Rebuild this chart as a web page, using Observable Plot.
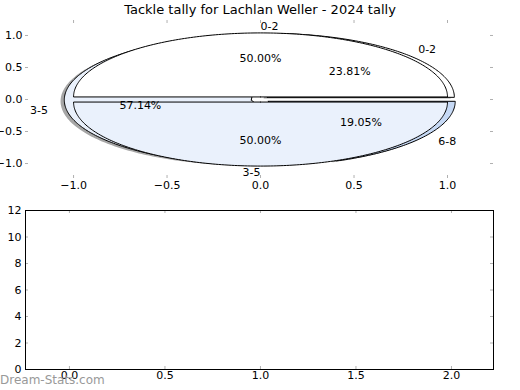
<!DOCTYPE html>
<html><head><meta charset="utf-8">
<script src="https://cdn.jsdelivr.net/npm/d3@7"></script>
<script src="https://cdn.jsdelivr.net/npm/@observablehq/plot@0.6"></script>
<style>
body{margin:0;background:#fff;}
#wrap{position:relative;width:520px;height:390px;overflow:hidden;font-family:"DejaVu Sans",sans-serif;background:#fff;}
#title{position:absolute;left:0;top:0;width:520px;text-align:center;font-size:13px;line-height:20px;color:#000;}
#top{position:absolute;left:0;top:0;}
#bottom{position:absolute;left:0;top:200px;}
#wm{position:absolute;left:0;top:372px;font-size:12px;line-height:16px;color:#999;}
svg{overflow:visible;}
</style></head>
<body>
<div id="wrap">
  <div id="top"></div>
  <div id="bottom"></div>
  <div id="title">Tackle tally for Lachlan Weller - 2024 tally</div>
  <div id="wm">Dream-Stats.com</div>
</div>
<script>
// ---- data ----
const outerLabels = ["0-2", "3-5", "6-8"];
const outerValues = [5, 12, 4];
const outerColors = ["#ffffff", "#e9f0fb", "#c6d9f5"];
const innerLabels = ["0-2", "3-5"];
const innerValues = [1, 1];
const innerColors = ["#ffffff", "#eaf1fc"];
const topTicks = [-1.0, -0.5, 0.0, 0.5, 1.0];
const bottomXTicks = [0.0, 0.5, 1.0, 1.5, 2.0];
const bottomYTicks = [0, 2, 4, 6, 8, 10, 12];

// ---- pie geometry from values ----
function wedges(labels, values, colors, explode) {
  const total = d3.sum(values);
  let a = 0;
  return values.map((v, i) => {
    const span = v / total * 360;
    const start = a, end = a + span, mid = (start + end) / 2;
    a = end;
    const r = mid * Math.PI / 180;
    return {label: labels[i], value: v, pct: (v / total * 100).toFixed(2) + "%",
      color: colors[i], start, end, mid,
      cx: explode * Math.cos(r), cy: explode * Math.sin(r)};
  });
}
function pts(w, ox = 0, oy = 0) {
  const p = [{x: w.cx + ox, y: w.cy + oy}];
  const n = Math.max(2, Math.ceil((w.end - w.start) / 1));
  for (let k = 0; k <= n; k++) {
    const t = (w.start + (w.end - w.start) * k / n) * Math.PI / 180;
    p.push({x: w.cx + ox + Math.cos(t), y: w.cy + oy + Math.sin(t)});
  }
  p.push({x: w.cx + ox, y: w.cy + oy});
  return p;
}
function labelPos(w, r) {
  const t = w.mid * Math.PI / 180;
  return {x: w.cx + r * Math.cos(t), y: w.cy + r * Math.sin(t)};
}
const outer = wedges(outerLabels, outerValues, outerColors, 0.05);
const inner = wedges(innerLabels, innerValues, innerColors, 0.04);

const fmt = d => d.toFixed(1).replace("-", "\u2212");
const tickColor = "#b0b0b0";

// ---- top plot (pies) ----
const W = 520, H1 = 200, mL = 25, mR = 27, mT1 = 20, mB1 = 22;
const fw = W - mL - mR, fh1 = H1 - mT1 - mB1;
const marks1 = [];
outer.forEach(w => marks1.push(Plot.line(pts(w, -0.02, -0.02), {x: "x", y: "y", fill: "#4d4d4d", fillOpacity: 0.5, stroke: "none", curve: "linear"})));
outer.forEach(w => marks1.push(Plot.line(pts(w), {x: "x", y: "y", fill: w.color, stroke: "#000", strokeWidth: 1, curve: "linear", strokeLinejoin: "miter"})));
inner.forEach(w => marks1.push(Plot.line(pts(w), {x: "x", y: "y", fill: w.color, stroke: "#000", strokeWidth: 1, curve: "linear", strokeLinejoin: "miter"})));
const allW = outer.concat(inner);
const lab = allW.map(w => ({...labelPos(w, 1.1), text: w.label, anchor: Math.cos(w.mid * Math.PI / 180) > 0 ? "start" : "end"}));
const pct = allW.map(w => ({...labelPos(w, 0.6), text: w.pct}));
marks1.push(Plot.text(lab.filter(d => d.anchor === "start"), {x: "x", y: "y", text: "text", textAnchor: "start", fontSize: 11, fill: "#000"}));
marks1.push(Plot.text(lab.filter(d => d.anchor === "end"), {x: "x", y: "y", text: "text", textAnchor: "end", fontSize: 11, fill: "#000"}));
marks1.push(Plot.text(pct, {x: "x", y: "y", text: "text", fontSize: 11, fill: "#000"}));
// inward gray ticks on all sides
marks1.push(Plot.ruleX(topTicks, {x: d => d, stroke: tickColor, insetTop: fh1 - 3}));
marks1.push(Plot.ruleX(topTicks, {x: d => d, stroke: tickColor, insetBottom: fh1 - 3}));
marks1.push(Plot.ruleY(topTicks, {y: d => d, stroke: tickColor, insetRight: fw - 3}));
marks1.push(Plot.ruleY(topTicks, {y: d => d, stroke: tickColor, insetLeft: fw - 3}));

const p1 = Plot.plot({
  width: W, height: H1, marginLeft: mL, marginRight: mR, marginTop: mT1, marginBottom: mB1,
  style: {fontFamily: "DejaVu Sans, sans-serif", fontSize: "11px", color: "#000", background: "transparent", overflow: "visible"},
  x: {domain: [-1.257, 1.246], ticks: topTicks, tickFormat: fmt, tickSize: 0, tickPadding: 3, label: null},
  y: {domain: [-1.234, 1.234], ticks: topTicks, tickFormat: fmt, tickSize: 0, tickPadding: 3, label: null},
  marks: marks1
});
document.getElementById("top").appendChild(p1);

// ---- bottom plot (empty axes) ----
const H2 = 190, mT2 = 10, mB2 = 21;
const fh2 = H2 - mT2 - mB2;
const p2 = Plot.plot({
  width: W, height: H2, marginLeft: mL, marginRight: mR, marginTop: mT2, marginBottom: mB2,
  style: {fontFamily: "DejaVu Sans, sans-serif", fontSize: "11px", color: "#000", background: "transparent", overflow: "visible"},
  x: {domain: [-0.23, 2.22], ticks: bottomXTicks, tickFormat: d => d.toFixed(1), tickSize: 0, tickPadding: 2, label: null},
  y: {domain: [0, 12], ticks: bottomYTicks, tickFormat: d => String(d), tickSize: 0, tickPadding: 4, label: null},
  marks: [
    Plot.ruleX(bottomXTicks, {x: d => d, stroke: tickColor, insetTop: fh2 - 3}),
    Plot.ruleX(bottomXTicks, {x: d => d, stroke: tickColor, insetBottom: fh2 - 3}),
    Plot.ruleY(bottomYTicks, {y: d => d, stroke: tickColor, insetRight: fw - 3}),
    Plot.ruleY(bottomYTicks, {y: d => d, stroke: tickColor, insetLeft: fw - 3}),
    Plot.frame({stroke: "#000", strokeWidth: 1})
  ]
});
document.getElementById("bottom").appendChild(p2);
</script>
</body></html>
